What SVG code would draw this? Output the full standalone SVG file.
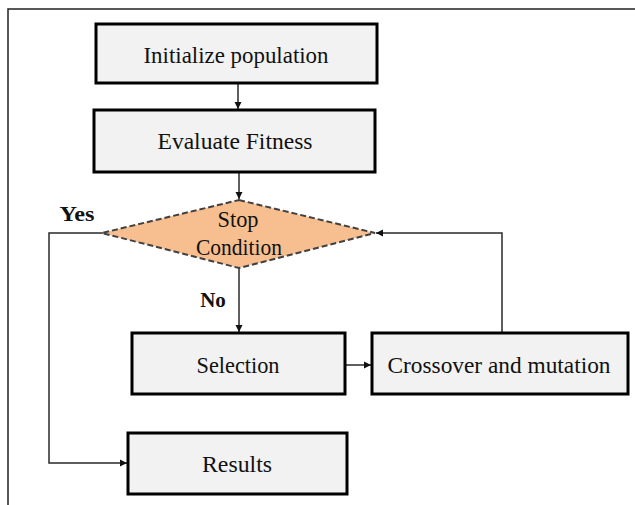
<svg xmlns="http://www.w3.org/2000/svg" width="635" height="505" viewBox="0 0 635 505">
<style>
.box{fill:#f2f2f2;stroke:#000;stroke-width:3}
.dia{fill:#f7bf8f;stroke:#404040;stroke-width:2;stroke-dasharray:6 3}
.t{font-family:"Liberation Serif","Times New Roman",serif;font-size:24px;fill:#111;text-anchor:middle}
.lbl{font-family:"Liberation Serif","Times New Roman",serif;font-size:21px;font-weight:bold;fill:#111;text-anchor:middle}
.c{fill:none;stroke:#2a2a2a;stroke-width:1.5}
.frame{fill:none;stroke:#222;stroke-width:1.5}
</style>
<defs>
<marker id="ah" markerWidth="8" markerHeight="8" refX="7" refY="4" orient="auto" markerUnits="userSpaceOnUse">
<path d="M0,0.5 L7,4 L0,7.5 Z" fill="#111"/>
</marker>
</defs>
<rect width="635" height="505" fill="#fff"/>
<path class="frame" d="M8,505 L8,9 L635,9"/>
<g id="connectors">
<path class="c" d="M238,83 L238,109" marker-end="url(#ah)"/>
<path class="c" d="M239,172 L239,199" marker-end="url(#ah)"/>
<path class="c" d="M239,268 L239,332" marker-end="url(#ah)"/>
<path class="c" d="M345,365 L371,365" marker-end="url(#ah)"/>
<path class="c" d="M502,333 L502,233 L376,233" marker-end="url(#ah)"/>
<path class="c" d="M103,233 L49,233 L49,463 L127,463" marker-end="url(#ah)"/>
</g>
<g id="init">
<rect class="box" x="96" y="24" width="281" height="59"/>
<text class="t" x="236" y="63" textLength="185" lengthAdjust="spacingAndGlyphs">Initialize  population</text>
</g>
<g id="eval">
<rect class="box" x="94" y="110" width="281" height="62"/>
<text class="t" x="235" y="149" textLength="155" lengthAdjust="spacingAndGlyphs">Evaluate Fitness</text>
</g>
<g id="stop">
<path class="dia" d="M239,200 L375,233 L239,268 L102,233 Z"/>
<text class="t" x="238" y="227" textLength="41" lengthAdjust="spacingAndGlyphs">Stop</text>
<text class="t" x="239" y="255" textLength="86" lengthAdjust="spacingAndGlyphs">Condition</text>
</g>
<g id="yes-label"><text class="lbl" x="77" y="221" textLength="35" lengthAdjust="spacingAndGlyphs">Yes</text></g>
<g id="no-label"><text class="lbl" x="213" y="307">No</text></g>
<g id="selection">
<rect class="box" x="132" y="333" width="213" height="61"/>
<text class="t" x="238" y="373" textLength="83" lengthAdjust="spacingAndGlyphs">Selection</text>
</g>
<g id="crossover">
<rect class="box" x="372" y="333" width="256" height="61"/>
<text class="t" x="499" y="373" textLength="223" lengthAdjust="spacingAndGlyphs">Crossover  and mutation</text>
</g>
<g id="results">
<rect class="box" x="128" y="433" width="219" height="61"/>
<text class="t" x="237" y="472" textLength="70" lengthAdjust="spacingAndGlyphs">Results</text>
</g>
</svg>
